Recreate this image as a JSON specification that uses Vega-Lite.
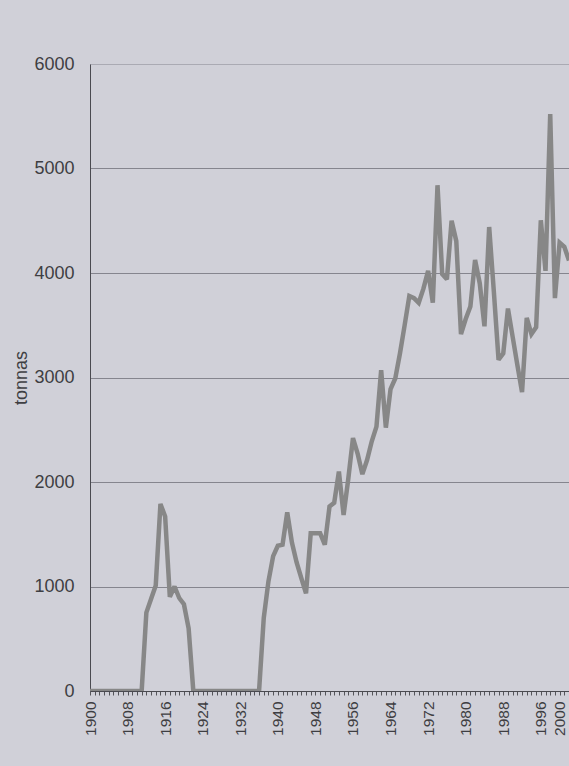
{
  "$schema": "https://vega.github.io/schema/vega-lite/v6.json",
  "width": 479,
  "height": 627,
  "autosize": {"type": "none"},
  "padding": {"left": 90, "top": 64, "right": 0, "bottom": 75},
  "background": "#d0d0d8",
  "config": {"view": {"stroke": null}, "font": "Liberation Sans"},
  "data": {
    "values": [
      {"year": 1900, "tonnas": 0}, {"year": 1901, "tonnas": 0}, {"year": 1902, "tonnas": 0}, {"year": 1903, "tonnas": 0},
      {"year": 1904, "tonnas": 0}, {"year": 1905, "tonnas": 0}, {"year": 1906, "tonnas": 0}, {"year": 1907, "tonnas": 0},
      {"year": 1908, "tonnas": 0}, {"year": 1909, "tonnas": 0}, {"year": 1910, "tonnas": 0}, {"year": 1911, "tonnas": 0},
      {"year": 1912, "tonnas": 750}, {"year": 1913, "tonnas": 880}, {"year": 1914, "tonnas": 1010}, {"year": 1915, "tonnas": 1790},
      {"year": 1916, "tonnas": 1670}, {"year": 1917, "tonnas": 900}, {"year": 1918, "tonnas": 1000}, {"year": 1919, "tonnas": 890},
      {"year": 1920, "tonnas": 830}, {"year": 1921, "tonnas": 600}, {"year": 1922, "tonnas": 0}, {"year": 1923, "tonnas": 0},
      {"year": 1924, "tonnas": 0}, {"year": 1925, "tonnas": 0}, {"year": 1926, "tonnas": 0}, {"year": 1927, "tonnas": 0},
      {"year": 1928, "tonnas": 0}, {"year": 1929, "tonnas": 0}, {"year": 1930, "tonnas": 0}, {"year": 1931, "tonnas": 0},
      {"year": 1932, "tonnas": 0}, {"year": 1933, "tonnas": 0}, {"year": 1934, "tonnas": 0}, {"year": 1935, "tonnas": 0},
      {"year": 1936, "tonnas": 0}, {"year": 1937, "tonnas": 700}, {"year": 1938, "tonnas": 1050}, {"year": 1939, "tonnas": 1290},
      {"year": 1940, "tonnas": 1390}, {"year": 1941, "tonnas": 1400}, {"year": 1942, "tonnas": 1710}, {"year": 1943, "tonnas": 1420},
      {"year": 1944, "tonnas": 1230}, {"year": 1945, "tonnas": 1080}, {"year": 1946, "tonnas": 935}, {"year": 1947, "tonnas": 1510},
      {"year": 1948, "tonnas": 1510}, {"year": 1949, "tonnas": 1510}, {"year": 1950, "tonnas": 1400}, {"year": 1951, "tonnas": 1765},
      {"year": 1952, "tonnas": 1800}, {"year": 1953, "tonnas": 2100}, {"year": 1954, "tonnas": 1685}, {"year": 1955, "tonnas": 2030},
      {"year": 1956, "tonnas": 2420}, {"year": 1957, "tonnas": 2270}, {"year": 1958, "tonnas": 2075}, {"year": 1959, "tonnas": 2210},
      {"year": 1960, "tonnas": 2390}, {"year": 1961, "tonnas": 2530}, {"year": 1962, "tonnas": 3070}, {"year": 1963, "tonnas": 2520},
      {"year": 1964, "tonnas": 2890}, {"year": 1965, "tonnas": 2990}, {"year": 1966, "tonnas": 3230}, {"year": 1967, "tonnas": 3500},
      {"year": 1968, "tonnas": 3780}, {"year": 1969, "tonnas": 3760}, {"year": 1970, "tonnas": 3715}, {"year": 1971, "tonnas": 3850},
      {"year": 1972, "tonnas": 4020}, {"year": 1973, "tonnas": 3715}, {"year": 1974, "tonnas": 4840}, {"year": 1975, "tonnas": 3990},
      {"year": 1976, "tonnas": 3940}, {"year": 1977, "tonnas": 4500}, {"year": 1978, "tonnas": 4305}, {"year": 1979, "tonnas": 3415},
      {"year": 1980, "tonnas": 3560}, {"year": 1981, "tonnas": 3680}, {"year": 1982, "tonnas": 4125}, {"year": 1983, "tonnas": 3900},
      {"year": 1984, "tonnas": 3490}, {"year": 1985, "tonnas": 4440}, {"year": 1986, "tonnas": 3820}, {"year": 1987, "tonnas": 3170},
      {"year": 1988, "tonnas": 3230}, {"year": 1989, "tonnas": 3660}, {"year": 1990, "tonnas": 3390}, {"year": 1991, "tonnas": 3120},
      {"year": 1992, "tonnas": 2860}, {"year": 1993, "tonnas": 3570}, {"year": 1994, "tonnas": 3415}, {"year": 1995, "tonnas": 3480},
      {"year": 1996, "tonnas": 4505}, {"year": 1997, "tonnas": 4020}, {"year": 1998, "tonnas": 5520}, {"year": 1999, "tonnas": 3760},
      {"year": 2000, "tonnas": 4290}, {"year": 2001, "tonnas": 4250}, {"year": 2002, "tonnas": 4120}
    ]
  },
  "mark": {"type": "line", "color": "#878787", "strokeWidth": 4.5, "strokeJoin": "miter", "strokeMiterLimit": 2.5, "clip": true},
  "encoding": {
    "x": {
      "field": "year",
      "type": "quantitative",
      "scale": {"domain": [1900, 2002], "nice": false, "zero": false},
      "axis": {
        "title": null,
        "grid": false,
        "values": [1900,1901,1902,1903,1904,1905,1906,1907,1908,1909,1910,1911,1912,1913,1914,1915,1916,1917,1918,1919,1920,1921,1922,1923,1924,1925,1926,1927,1928,1929,1930,1931,1932,1933,1934,1935,1936,1937,1938,1939,1940,1941,1942,1943,1944,1945,1946,1947,1948,1949,1950,1951,1952,1953,1954,1955,1956,1957,1958,1959,1960,1961,1962,1963,1964,1965,1966,1967,1968,1969,1970,1971,1972,1973,1974,1975,1976,1977,1978,1979,1980,1981,1982,1983,1984,1985,1986,1987,1988,1989,1990,1991,1992,1993,1994,1995,1996,1997,1998,1999,2000,2001,2002],
        "labelExpr": "((datum.value - 1900) % 8 == 0 || datum.value == 2000) ? ('' + datum.value) : ''",
        "labelAngle": 270,
        "labelFontSize": 15.5,
        "labelColor": "#3e3e42",
        "labelPadding": 6,
        "labelOverlap": false,
        "labelBound": false,
        "labelFlush": false,
        "tickSize": 4,
        "tickColor": "#55555a",
        "tickWidth": 1,
        "domainColor": "#4a4a50",
        "domainWidth": 1
      }
    },
    "y": {
      "field": "tonnas",
      "type": "quantitative",
      "scale": {"domain": [0, 6000], "nice": false},
      "axis": {
        "values": [0, 1000, 2000, 3000, 4000, 5000, 6000],
        "format": "d",
        "grid": true,
        "gridColor": "#85858e",
        "gridWidth": 1,
        "gridDash": {"condition": {"test": "datum.value == 6000", "value": [1, 1]}, "value": []},
        "ticks": false,
        "labelPadding": 16,
        "labelFontSize": 18,
        "labelColor": "#3e3e42",
        "labelFlush": false,
        "domainColor": "#4a4a50",
        "domainWidth": 1,
        "title": "tonnas",
        "titleFontSize": 18,
        "titleFontWeight": "normal",
        "titleColor": "#3e3e42",
        "titlePadding": 3
      }
    }
  }
}
